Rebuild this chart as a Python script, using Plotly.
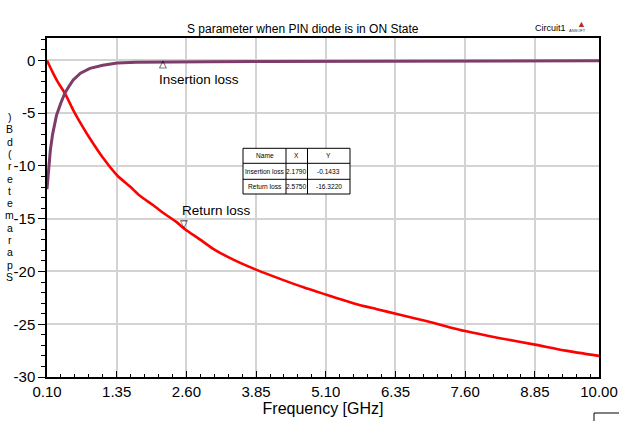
import plotly.graph_objects as go

# ---- data ----
il_freq = [0.10, 0.13, 0.16, 0.20, 0.27, 0.35, 0.42, 0.50, 0.57, 0.70, 0.87, 1.10, 1.36, 1.70,
           2.18, 3.00, 4.00, 5.00, 6.00, 6.60, 6.70, 8.00, 10.00]
il_db = [-12.2, -10.0, -8.5, -7.0, -5.2, -4.0, -3.1, -2.4, -1.85, -1.2, -0.75, -0.45, -0.25, -0.18,
         -0.14, -0.12, -0.10, -0.10, -0.10, -0.10, -0.03, -0.03, -0.03]

rl_freq = [0.10, 0.20, 0.30, 0.42, 0.57, 0.72, 0.87, 1.10, 1.36, 1.60, 1.76, 2.00, 2.20, 2.42,
           2.575, 2.84, 3.08, 3.45, 3.86, 4.28, 4.70, 5.11, 5.59, 6.00, 6.43, 6.90, 7.60, 8.20,
           8.85, 9.40, 10.00]
rl_db = [0.0, -1.1, -2.1, -3.1, -4.7, -6.1, -7.4, -9.2, -10.9, -12.0, -12.8, -13.7, -14.5, -15.3,
         -16.0, -16.95, -17.85, -18.9, -19.85, -20.7, -21.5, -22.2, -23.0, -23.55, -24.1, -24.7,
         -25.65, -26.3, -26.93, -27.5, -28.0]

marker_names = ["Insertion loss", "Return loss"]
marker_x = [2.1790, 2.5750]
marker_y = [-0.1433, -16.3220]
table_header = ["Name", "X", "Y"]

x_ticks = [0.10, 1.35, 2.60, 3.85, 5.10, 6.35, 7.60, 8.85, 10.00]
y_ticks = [0, -5, -10, -15, -20, -25, -30]

y_label = "S parameter(dB)".replace(" ", "")

FONT = "Liberation Sans, Arial, sans-serif"

W, H = 619, 421
L, R, T, B = 47, 20, 38, 44
pw, ph = W - L - R, H - T - B


def px(xp):
    return (xp - L) / pw


def py(yp):
    return (H - B - yp) / ph


fig = go.Figure()

fig.add_trace(go.Scatter(x=rl_freq, y=rl_db, mode="lines", name="Return loss",
                         line=dict(color="#ff0000", width=2.6, shape="spline", smoothing=0.6),
                         showlegend=False))
fig.add_trace(go.Scatter(x=il_freq, y=il_db, mode="lines", name="Insertion loss",
                         line=dict(color="#7d3c69", width=3), showlegend=False))

annotations = []
shapes = []

# marker triangles and labels
annotations.append(dict(x=marker_x[0], y=marker_y[0], xref="x", yref="y", text="△",
                        showarrow=False, yshift=-2, font=dict(size=10, color="black")))
annotations.append(dict(x=marker_x[0], y=marker_y[0], xref="x", yref="y", text=marker_names[0],
                        showarrow=False, xanchor="left", xshift=-6, yshift=-18,
                        font=dict(family=FONT, size=13.5, color="black")))
annotations.append(dict(x=marker_x[1], y=marker_y[1], xref="x", yref="y", text="▽",
                        showarrow=False, yshift=9, xshift=-1, font=dict(size=10, color="black")))
annotations.append(dict(x=marker_x[1], y=marker_y[1], xref="x", yref="y", text=marker_names[1],
                        showarrow=False, xanchor="left", xshift=-5, yshift=22,
                        font=dict(family=FONT, size=13.5, color="black")))

# marker table (drawn with shapes + text)
tx = [243, 286, 307.5, 350]
ty = [148.3, 163.3, 179.3, 194]
shapes.append(dict(type="rect", xref="paper", yref="paper", x0=px(tx[0]), x1=px(tx[-1]),
                   y0=py(ty[-1]), y1=py(ty[0]), fillcolor="white",
                   line=dict(color="black", width=1), layer="above"))
for xv in tx[1:-1]:
    shapes.append(dict(type="line", xref="paper", yref="paper", x0=px(xv), x1=px(xv),
                       y0=py(ty[-1]), y1=py(ty[0]), line=dict(color="black", width=1)))
for yv in ty[1:-1]:
    shapes.append(dict(type="line", xref="paper", yref="paper", x0=px(tx[0]), x1=px(tx[-1]),
                       y0=py(yv), y1=py(yv), line=dict(color="black", width=1)))
rows = [table_header] + [[n, f"{a:.4f}", f"{b:.4f}"] for n, a, b in zip(marker_names, marker_x, marker_y)]
for r, row in enumerate(rows):
    yc = (ty[r] + ty[r + 1]) / 2
    for c, txt in enumerate(row):
        xc = (tx[c] + tx[c + 1]) / 2
        annotations.append(dict(x=px(xc), y=py(yc), xref="paper", yref="paper", text=txt,
                                showarrow=False, xanchor="center", yanchor="middle",
                                font=dict(family=FONT, size=6.6, color="black")))

# stacked y-axis label characters (reversed, upright)
chars = list(reversed(y_label))
top_px, bot_px = 117, 277
step = (bot_px - top_px) / (len(chars) - 1)
for i, ch in enumerate(chars):
    annotations.append(dict(x=px(9.5), y=py(top_px + i * step), xref="paper", yref="paper",
                            text=ch, showarrow=False, xanchor="center", yanchor="middle",
                            font=dict(family=FONT, size=10.5, color="black")))

# title and logo
annotations.append(dict(x=px(303), y=py(20), xref="paper", yref="paper",
                        text="S parameter when PIN diode is in ON State", showarrow=False,
                        font=dict(family=FONT, size=12, color="black")))
annotations.append(dict(x=px(568), y=py(21), xref="paper", yref="paper", text="Circuit1",
                        showarrow=False, xanchor="right",
                        font=dict(family=FONT, size=9, color="black")))
annotations.append(dict(x=px(588), y=py(17), xref="paper", yref="paper", text="▲",
                        showarrow=False, font=dict(size=9, color="#c0281e")))
annotations.append(dict(x=px(588), y=py(26), xref="paper", yref="paper", text="ANSOFT",
                        showarrow=False, font=dict(family=FONT, size=4, color="#333")))

shapes += [
    dict(type="line", xref="paper", yref="paper", x0=px(594), x1=px(619), y0=py(413), y1=py(413),
         line=dict(color="black", width=1)),
    dict(type="line", xref="paper", yref="paper", x0=px(594), x1=px(594), y0=py(413), y1=py(421),
         line=dict(color="black", width=1)),
]

fig.update_layout(
    width=W, height=H,
    margin=dict(l=L, r=R, t=T, b=B, autoexpand=False),
    paper_bgcolor="white", plot_bgcolor="white",
    showlegend=False,
    annotations=annotations,
    shapes=shapes,
    font=dict(family=FONT, color="black"),
)

fig.update_xaxes(
    range=[0.10, 10.00], tickvals=x_ticks, ticktext=[f"{v:.2f}" for v in x_ticks],
    automargin=False,
    showgrid=True, gridcolor="#d3d3d3", gridwidth=1.5,
    showline=True, linecolor="black", linewidth=1.5, mirror=True,
    ticks="inside", ticklen=6, tickcolor="black",
    minor=dict(dtick=0.25, tick0=0.10, ticks="inside", ticklen=3, tickcolor="black", showgrid=False),
    tickfont=dict(family=FONT, size=15, color="black"),
    title=dict(text="Frequency [GHz]", font=dict(family=FONT, size=16, color="black"), standoff=0),
    zeroline=False,
)
fig.update_yaxes(
    range=[-30, 2.13], tickvals=y_ticks, ticktext=[str(v) for v in y_ticks],
    automargin=False,
    showgrid=True, gridcolor="#d3d3d3", gridwidth=1.5,
    showline=True, linecolor="black", linewidth=1.5, mirror=True,
    ticks="outside", ticklen=7, tickcolor="black",
    minor=dict(dtick=1, tick0=0, ticks="outside", ticklen=4, tickcolor="black", showgrid=False),
    tickfont=dict(family=FONT, size=15, color="black"),
    zeroline=False,
)

fig.write_html("out.html")
